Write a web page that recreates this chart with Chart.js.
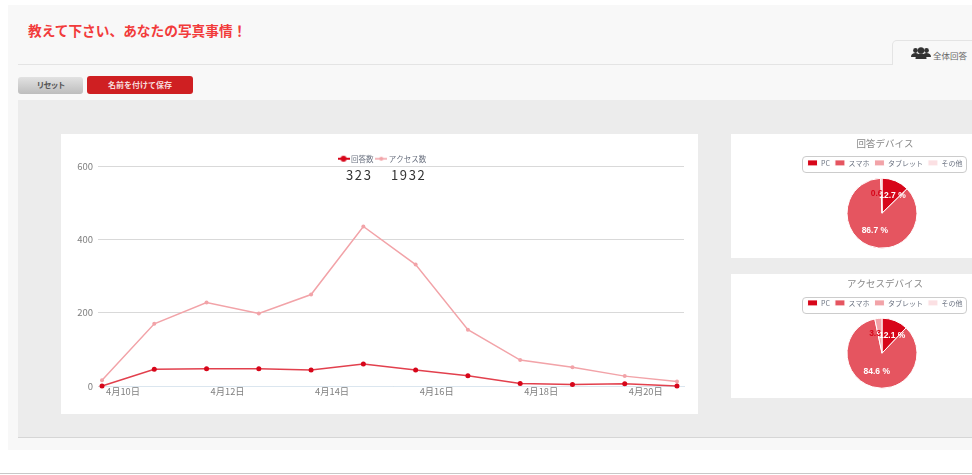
<!DOCTYPE html>
<html lang="ja">
<head>
<meta charset="utf-8">
<title>教えて下さい、あなたの写真事情！</title>
<script src="https://cdn.jsdelivr.net/npm/chart.js@4"></script>
<style>
  html, body { margin: 0; padding: 0; width: 972px; height: 475px; overflow: hidden; background: #fff; }
  body { position: relative; font-family: "Noto Sans CJK JP", sans-serif; }
  .abs { position: absolute; box-sizing: border-box; }
  .panel { background: #fff; overflow: hidden; }
  canvas { position: absolute; left: 0; top: 0; }
  #page { left: 8px; top: 5px; width: 964px; height: 445px; background: #f8f8f8; }
  #heading { left: 28px; top: 21px; font-size: 13.7px; line-height: 18px; font-weight: 700; color: #f23b3b; white-space: nowrap; }
  #rule { left: 18px; top: 64px; width: 874px; height: 1px; background: #e4e4e4; }
  #tab { left: 892px; top: 40px; width: 90px; height: 25px; background: #f8f8f8; border: 1px solid #e4e4e4; border-bottom: 0; border-radius: 5px 0 0 0; }
  #tabText { left: 933px; top: 49px; font-size: 8.5px; line-height: 12px; color: #666; white-space: nowrap; }
  #tabIcon { left: 911px; top: 47px; }
  .btn { top: 77px; height: 17px; border-radius: 3px; font-size: 8px; line-height: 16px; text-align: center; font-weight: 700; }
  #reset { left: 18px; width: 65px; background: linear-gradient(#e2e2e2, #bdbdbd); color: #555; letter-spacing: -1px; }
  #save { left: 87px; top: 76px; height: 18px; line-height: 18px; width: 106px; background: #cf1f22; color: #f6dcdc; }
  #content { left: 18px; top: 100px; width: 954px; height: 338px; background: #ececec; border-bottom: 1px solid #d6d6d6; }
  #linePanel { left: 61px; top: 134px; width: 637px; height: 280px; }
  #total1, #total2 { top: 166px; font-size: 13px; line-height: 18px; letter-spacing: 1.6px; color: #333; white-space: nowrap; }
  #total1 { left: 346px; }
  #total2 { left: 391px; }
  #piePanel1 { left: 731px; top: 134px; width: 241px; height: 124px; }
  #piePanel2 { left: 731px; top: 274px; width: 241px; height: 124px; }
  .legendBox { left: 71px; width: 165px; height: 17px; border: 1px solid #ccc; border-radius: 4px; }
  #piePanel1 .legendBox { top: 22px; }
  #piePanel2 .legendBox { top: 23px; }
  #bottomRule { left: 0; top: 473px; width: 972px; height: 1px; background: #c8c8c8; }
</style>
</head>
<body>
<div class="abs" id="page"></div>
<div class="abs" id="heading">教えて下さい、あなたの写真事情！</div>
<div class="abs" id="rule"></div>
<div class="abs" id="tab"></div>
<svg class="abs" id="tabIcon" width="20" height="13" viewBox="0 0 20 13" fill="#333">
  <circle cx="4.500" cy="3.500" r="2.400"/><circle cx="15.500" cy="3.500" r="2.400"/>
  <path d="M0 10c0-3 2-4 4.500-4S8 7 8 10zM12 10c0-3 1-4 3.500-4S20 7 20 10z"/>
  <circle cx="10" cy="3.500" r="3.200"/><path d="M4.500 12c0-4 2.500-5.500 5.500-5.500s5.500 1.500 5.500 5.500z"/>
</svg>
<div class="abs" id="tabText">全体回答</div>
<div class="abs btn" id="reset">リセット</div>
<div class="abs btn" id="save">名前を付けて保存</div>
<div class="abs" id="content"></div>

<div class="abs panel" id="linePanel"><canvas id="lineChart"></canvas></div>
<div class="abs" id="total1">323</div>
<div class="abs" id="total2">1932</div>

<div class="abs panel" id="piePanel1"><div class="abs legendBox"></div><canvas id="pieAnswer"></canvas></div>
<div class="abs panel" id="piePanel2"><div class="abs legendBox"></div><canvas id="pieAccess"></canvas></div>
<div class="abs" id="bottomRule"></div>

<script>
/* data */
const dates = ["4月10日", "4月11日", "4月12日", "4月13日", "4月14日", "4月15日",
               "4月16日", "4月17日", "4月18日", "4月19日", "4月20日", "4月21日"];
const answers = [0, 46, 47, 47, 44, 60, 44, 28, 7, 4, 6, 0];
const accesses = [16, 170, 228, 198, 250, 436, 332, 154, 71, 51, 27, 12];
const deviceLabels = ["PC", "スマホ", "タブレット", "その他"];
const answerDevice = [12.7, 86.7, 0.6, 0];
const accessDevice = [12.1, 84.6, 3.3, 0];

const RED = "#d7061a";
const PINK = "#f2a3a8";
const DEVICE_COLORS = [RED, "#e55560", PINK, "#fbe0e3"];
const TEXT_GREY = "#808080";
const LEGEND_GREY = "#6b7280";

Chart.defaults.font.family = '"Noto Sans CJK JP", sans-serif';
Chart.defaults.animation = false;

/* legend glyph: short line with a dot */
function legendGlyph(color, lineW, dotR) {
    const c = document.createElement("canvas");
    c.width = 12; c.height = 8;
    const g = c.getContext("2d");
    g.fillStyle = color;
    g.fillRect(0, 4 - lineW / 2, 12, lineW);
    g.beginPath();
    g.arc(6, 4, dotR, 0, Math.PI * 2);
    g.fill();
    return c;
}
const legendGlyphs = [legendGlyph(RED, 2, 3), legendGlyph(PINK, 1.5, 2)];

/* the original's legend and title sit off the plot centre */
function nudgeBoxes(dx, dy) {
    return {
        id: "nudgeBoxes",
        afterLayout(chart) {
            [chart.legend, chart.titleBlock].forEach(box => {
                if (!box) return;
                box.left += dx;
                box.right += dx;
                box.top += dy;
                box.bottom += dy;
            });
        }
    };
}

/* percent labels on the slices, later slices are drawn first like the original */
const sliceLabels = {
    id: "sliceLabels",
    afterDatasetsDraw(chart) {
        const ctx = chart.ctx;
        const values = chart.data.datasets[0].data;
        const arcs = chart.getDatasetMeta(0).data;
        ctx.save();
        ctx.font = 'bold 8.5px "Liberation Sans", sans-serif';
        ctx.textAlign = "center";
        ctx.textBaseline = "middle";
        for (let i = arcs.length - 1; i >= 0; i--) {
            if (!values[i]) continue;
            const a = arcs[i].getProps(["startAngle", "endAngle", "x", "y", "outerRadius"], true);
            const mid = (a.startAngle + a.endAngle) / 2;
            const r = a.outerRadius * 0.55;
            ctx.fillStyle = values[i] < 5 ? RED : "#fff";
            ctx.fillText(values[i].toFixed(1) + " %",
                a.x + Math.cos(mid) * r + (i === 0 ? 3 : 0),
                a.y + Math.sin(mid) * r);
        }
        ctx.restore();
    }
};

function makePie(canvasId, title, values) {
    const canvas = document.getElementById(canvasId);
    canvas.style.width = "302px";
    canvas.style.height = "124px";
    new Chart(canvas, {
        type: "pie",
        data: {
            labels: deviceLabels,
            datasets: [{
                data: values,
                backgroundColor: DEVICE_COLORS,
                borderColor: "#fff",
                borderWidth: 1,
                radius: 35
            }]
        },
        options: {
            responsive: false,
            layout: { padding: { bottom: 8 } },
            plugins: {
                title: {
                    display: true,
                    text: title,
                    color: "#888",
                    font: { size: 9.5, weight: "normal" },
                    padding: { top: 4, bottom: 5 }
                },
                legend: {
                    position: "top",
                    labels: { boxWidth: 10, boxHeight: 6, padding: 5, color: LEGEND_GREY, font: { size: 7 } }
                },
                tooltip: { enabled: false }
            }
        },
        plugins: [sliceLabels, nudgeBoxes(3, 0)]
    });
}

const lineCanvas = document.getElementById("lineChart");
lineCanvas.width = 637;
lineCanvas.height = 280;

new Chart(lineCanvas, {
    type: "line",
    data: {
        datasets: [
            {
                label: "回答数",
                data: answers.map((v, i) => ({ x: i, y: v })),
                borderColor: "#e2404d",
                backgroundColor: RED,
                borderWidth: 1.5,
                pointRadius: 2.5,
                pointBackgroundColor: RED,
                pointBorderWidth: 0,
                clip: false,
                order: 1
            },
            {
                label: "アクセス数",
                data: accesses.map((v, i) => ({ x: i, y: v })),
                borderColor: PINK,
                backgroundColor: PINK,
                borderWidth: 1.5,
                pointRadius: 2,
                pointBackgroundColor: PINK,
                pointBorderWidth: 0,
                clip: false,
                order: 2
            }
        ]
    },
    options: {
        responsive: false,
        layout: { padding: { right: 14, top: 11 } },
        elements: { line: { tension: 0 } },
        scales: {
            x: {
                type: "linear",
                min: 0,
                max: 11.134,
                afterFit(scale) { scale.height = 28; },
                grid: { display: false, drawTicks: false },
                border: { color: "#dbe6ef" },
                ticks: {
                    stepSize: 2,
                    includeBounds: false,
                    autoSkip: false,
                    maxRotation: 0,
                    align: "start",
                    labelOffset: 4,
                    padding: 0,
                    color: TEXT_GREY,
                    font: { size: 9.3 },
                    callback: v => dates[v]
                }
            },
            y: {
                min: 0,
                max: 600,
                afterFit(scale) { scale.width = 41; },
                border: { display: false },
                grid: { color: "#d9d9d9", tickLength: 4 },
                ticks: {
                    stepSize: 200,
                    padding: 5,
                    color: TEXT_GREY,
                    font: { size: 9.5 }
                }
            }
        },
        plugins: {
            legend: {
                position: "top",
                labels: {
                    usePointStyle: true,
                    padding: 4,
                    color: LEGEND_GREY,
                    font: { size: 7.5 },
                    generateLabels(chart) {
                        const items = Chart.defaults.plugins.legend.labels.generateLabels(chart);
                        items.forEach((item, i) => { item.pointStyle = legendGlyphs[i]; });
                        return items;
                    }
                }
            },
            tooltip: { enabled: false }
        }
    },
    plugins: [nudgeBoxes(10.5, 6)]
});

makePie("pieAnswer", "回答デバイス", answerDevice);
makePie("pieAccess", "アクセスデバイス", accessDevice);
</script>
</body>
</html>
